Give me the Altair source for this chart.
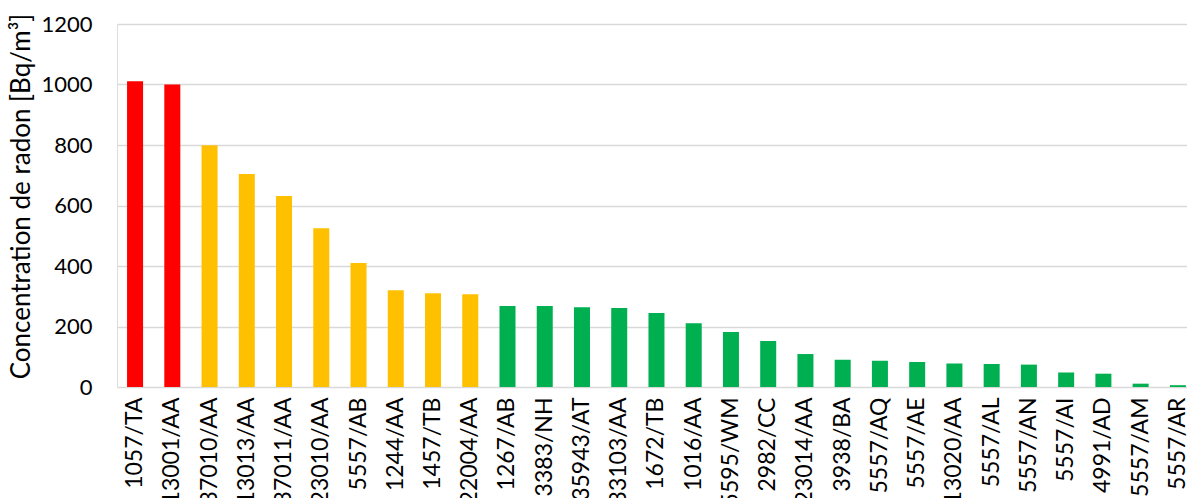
import altair as alt
import pandas as pd

codes = ["1057/TA", "13001/AA", "37010/AA", "13013/AA", "37011/AA", "23010/AA",
         "5557/AB", "1244/AA", "1457/TB", "22004/AA", "1267/AB", "3383/NH",
         "35943/AT", "33103/AA", "1672/TB", "1016/AA", "5595/WM", "2982/CC",
         "23014/AA", "3938/BA", "5557/AQ", "5557/AE", "13020/AA", "5557/AL",
         "5557/AN", "5557/AI", "4991/AD", "5557/AM", "5557/AR"]
values = [1011, 1000, 799, 704, 631, 525, 410, 320, 310, 307, 268, 268,
          264, 261, 245, 211, 182, 152, 109, 90, 87, 83, 78, 76,
          74, 48, 44, 11, 6]
levels = ["high"] * 2 + ["medium"] * 8 + ["low"] * 19

level_names = ["high", "medium", "low"]
level_colors = ["#FF0000", "#FFC000", "#00B050"]

df = pd.DataFrame({"code": codes, "value": values, "level": levels})

FONT = "Lato"

chart = alt.Chart(df).mark_bar().encode(
    x=alt.X("code:N", sort=codes, title=None,
            scale=alt.Scale(paddingInner=0.57, paddingOuter=0.15, align=0.9),
            axis=alt.Axis(labelAngle=-90, labelAlign="right", labelBaseline="middle",
                          labelPadding=10, ticks=False, domain=False,
                          labelFontSize=23, labelFont=FONT, labelColor="#000000",
                          labelOverlap=False, labelLimit=300)),
    y=alt.Y("value:Q", title="Concentration de radon [Bq/m³]",
            scale=alt.Scale(domain=[0, 1200], nice=False),
            axis=alt.Axis(values=[0, 200, 400, 600, 800, 1000, 1200], format="d",
                          ticks=False, domain=False, labelPadding=25, labelFontSize=22,
                          labelFont=FONT, labelColor="#000000",
                          titleFont=FONT, titleFontSize=26, titleFontWeight="normal",
                          titleColor="#000000", titlePadding=6, titleY=172,
                          gridColor="#D9D9D9", gridWidth=1.5)),
    color=alt.Color("level:N", scale=alt.Scale(domain=level_names, range=level_colors),
                    legend=None),
).properties(
    width=1070,
    height=363,
    autosize=alt.AutoSizeParams(type="none"),
    padding={"left": 117, "top": 24, "right": 0, "bottom": 111},
).configure_view(stroke=None).configure(background="white")

chart.save("out.html", embed_options={"renderer": "svg", "actions": False})
